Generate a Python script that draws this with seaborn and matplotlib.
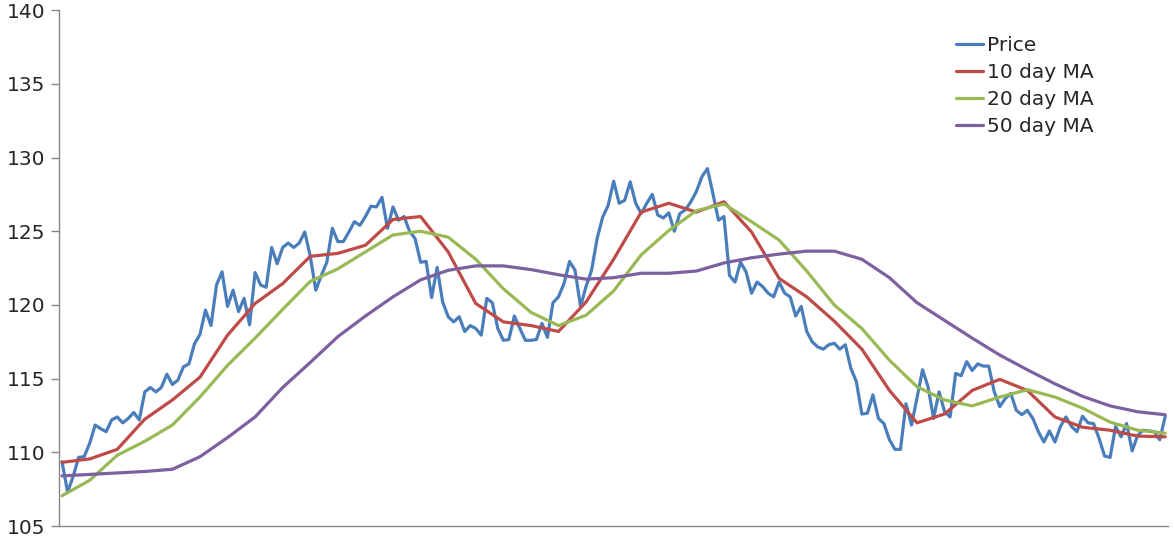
import numpy as np
import pandas as pd
import matplotlib
matplotlib.use('Agg')
import matplotlib.pyplot as plt
import seaborn as sns

# daily closing price (201 trading days)
price = [109.36, 107.3, 108.35, 109.66, 109.7, 110.6, 111.85, 111.6, 111.4, 112.2,
         112.4, 112.0, 112.3, 112.7, 112.2, 114.1, 114.4, 114.1, 114.4, 115.3,
         114.6, 114.9, 115.8, 116.0, 117.35, 118.0, 119.65, 118.6, 121.35, 122.25,
         119.9, 121.0, 119.55, 120.45, 118.65, 122.2, 121.35, 121.2, 123.9, 122.8,
         123.9, 124.2, 123.9, 124.2, 124.95, 123.3, 121.0, 122.0, 122.9, 125.2,
         124.3, 124.3, 124.95, 125.65, 125.4, 126.0, 126.7, 126.65, 127.3, 125.2,
         126.65, 125.75, 126.0, 125.0, 124.5, 122.9, 122.95, 120.5, 122.55, 120.2,
         119.2, 118.85, 119.2, 118.2, 118.6, 118.4, 117.95, 120.45, 120.15, 118.4,
         117.6, 117.65, 119.25, 118.4, 117.6, 117.6, 117.65, 118.75, 117.8, 120.15,
         120.55, 121.45, 122.95, 122.35, 119.9, 121.25, 122.35, 124.5, 125.95, 126.75,
         128.4, 126.9, 127.1, 128.35, 126.9, 126.2, 126.9, 127.5, 126.1, 125.9,
         126.25, 125.0, 126.2, 126.45, 127.0, 127.7, 128.7, 129.25, 127.55, 125.75,
         126.0, 122.0, 121.55, 122.9, 122.25, 120.8, 121.55, 121.25, 120.8, 120.55,
         121.55, 120.8, 120.55, 119.25, 119.9, 118.2, 117.5, 117.15, 117.0, 117.3,
         117.4, 117.0, 117.3, 115.7, 114.8, 112.6, 112.65, 113.9, 112.3, 111.95,
         110.85, 110.2, 110.2, 113.3, 111.85, 113.7, 115.6, 114.45, 112.3, 114.1,
         112.75, 112.4, 115.35, 115.2, 116.15, 115.55, 116.0, 115.85, 115.85, 114.1,
         113.1, 113.65, 114.0, 112.85, 112.55, 112.85, 112.3, 111.4, 110.7, 111.45,
         110.7, 111.75, 112.4, 111.75, 111.4, 112.45, 112.0, 111.95, 110.95, 109.75,
         109.65, 111.75, 111.05, 111.95, 110.1, 111.15, 111.5, 111.45, 111.4, 110.85,
         112.45]

# moving averages, read every 5th day
ma_days = list(range(0, 201, 5))
ma10 = [109.32, 109.55, 110.2, 112.25, 113.55, 115.1, 117.95, 120.1, 121.45, 123.3,
        123.5, 124.05, 125.8, 126.0, 123.6, 120.1, 118.85, 118.6, 118.2, 120.2,
        123.1, 126.3, 126.9, 126.3, 127.0, 124.95, 121.8, 120.55, 118.9, 117.0,
        114.2, 112.0, 112.6, 114.2, 114.95, 114.2, 112.4, 111.7, 111.5, 111.1,
        111.05]
ma20 = [107.05, 108.1, 109.8, 110.75, 111.85, 113.75, 115.9, 117.75, 119.7, 121.6,
        122.45, 123.6, 124.75, 125.0, 124.6, 123.1, 121.1, 119.5, 118.6, 119.3,
        120.95, 123.4, 125.05, 126.4, 126.85, 125.65, 124.4, 122.3, 120.0, 118.4,
        116.25, 114.45, 113.55, 113.15, 113.75, 114.25, 113.75, 113.0, 112.05, 111.5,
        111.3]
ma50 = [108.4, 108.5, 108.6, 108.7, 108.85, 109.7, 111.0, 112.4, 114.4, 116.1,
        117.85, 119.25, 120.55, 121.7, 122.35, 122.65, 122.65, 122.4, 122.05, 121.75,
        121.85, 122.15, 122.15, 122.3, 122.85, 123.2, 123.45, 123.65, 123.65, 123.1,
        121.85, 120.15, 118.95, 117.75, 116.6, 115.6, 114.65, 113.8, 113.15, 112.75,
        112.55]

series_names = ['Price', '10 day MA', '20 day MA', '50 day MA']
colors = ['#4A7EBB', '#BE4B48', '#98B954', '#7D60A0']
y_ticks = [105, 110, 115, 120, 125, 130, 135, 140]

df = pd.concat([
    pd.DataFrame({'day': range(len(price)), 'value': price, 'series': 'Price'}),
    pd.DataFrame({'day': ma_days, 'value': ma10, 'series': '10 day MA'}),
    pd.DataFrame({'day': ma_days, 'value': ma20, 'series': '20 day MA'}),
    pd.DataFrame({'day': ma_days, 'value': ma50, 'series': '50 day MA'}),
], ignore_index=True)

sns.set_style('white')
plt.rcParams['font.family'] = ['DejaVu Sans']

fig = plt.figure(figsize=(11.74, 5.39), dpi=100)
ax = fig.add_axes([59.3 / 1174, 1 - 526 / 539, (1168 - 59.3) / 1174, (526 - 10.2) / 539])

sns.lineplot(data=df, x='day', y='value', hue='series', hue_order=series_names,
             palette=colors, estimator=None, linewidth=2.3, ax=ax)
for line in ax.get_lines():
    line.set_solid_joinstyle('round')

ax.set_xlim(-0.5, len(price) - 0.5)
ax.set_ylim(105, 140)
ax.set_yticks(y_ticks)
ax.set_xticks([])
ax.set_xlabel('')
ax.set_ylabel('')
ax.tick_params(axis='y', which='major', labelsize=14.5, length=6, width=1,
               color='#868686', pad=4, left=True, direction='out')

sns.despine(ax=ax)
for side in ['left', 'bottom']:
    ax.spines[side].set_color('#868686')
    ax.spines[side].set_linewidth(1)

leg = ax.legend(loc='upper left', bbox_to_anchor=(956 / 1174, 1 - 36 / 539),
                bbox_transform=fig.transFigure, frameon=False, fontsize=14.5,
                handlelength=1.35, handletextpad=0.2, labelspacing=0.4,
                borderpad=0, borderaxespad=0)
for line in leg.get_lines():
    line.set_linewidth(2.3)

plt.savefig('out.png', dpi=100)
